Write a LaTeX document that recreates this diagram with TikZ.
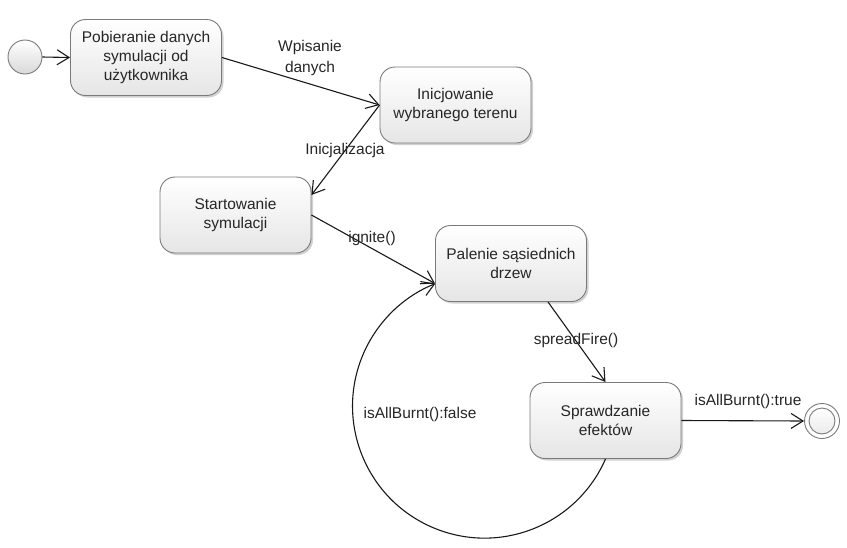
\documentclass[tikz,border=0pt]{standalone}
\usepackage{fontspec}
\setmainfont{Liberation Sans}
\usetikzlibrary{arrows.meta,shadows}
\definecolor{txt}{HTML}{262626}
\definecolor{bord}{HTML}{7A7A7A}
\begin{document}
\begin{tikzpicture}[x=1pt,y=-1pt,
  state/.style={draw=bord, line width=0.9pt, rounded corners=15pt,
    minimum width=151pt, minimum height=76pt, align=center,
    top color=white, bottom color=black!10, text=txt, inner sep=2pt,
    font=\fontsize{15.5}{19}\selectfont,
    drop shadow={shadow xshift=2pt,shadow yshift=-2pt,opacity=0.18,fill=black}},
  lbl/.style={text=txt, font=\fontsize{15.5}{21}\selectfont, align=center, inner sep=0pt},
  conn/.style={draw=black!90, line width=1.1pt, -{Straight Barb[length=12pt,width=15pt,line width=1.1pt]}}
]
\useasboundingbox (0,0) rectangle (847,547);

% initial and final pseudo-states
\node[circle, draw=bord, line width=0.9pt, minimum size=34pt, inner sep=0pt,
      top color=white, bottom color=black!15] (start) at (25,57) {};
\node[circle, draw=bord, line width=0.9pt, minimum size=35pt, inner sep=0pt, fill=white] (end) at (822,421) {};
\node[circle, draw=bord, line width=0.9pt, minimum size=26pt, inner sep=0pt,
      top color=white, bottom color=black!8] (endin) at (822,421) {};

% states
\node[state] (s1) at (146,57.5) {Pobieranie danych\\symulacji od\\użytkownika};
\node[state] (s2) at (455.5,105) {Inicjowanie\\wybranego terenu};
\node[state] (s3) at (235.5,215) {Startowanie\\symulacji};
\node[state] (s4) at (511,263.5) {Palenie sąsiednich\\drzew};
\node[state] (s5) at (605.5,420.5) {Sprawdzanie\\efektów};

% transitions
\draw[conn] (start.east) -- (s1.west);
\draw[conn] (s1.east) -- (s2.west);
\draw[conn] (s2.west) -- ([yshift=20pt]s3.east);
\draw[conn] (s3.east) -- ([yshift=-20pt]s4.west);
\draw[conn] ([xshift=37pt]s4.south) -- (s5.north);
\draw[conn] (s5.east) -- (end.west);
\draw[conn] (s5.south) arc[start angle=-23.6, end angle=-248.1, radius=132pt];

% labels
\node[lbl] (l1) at (310,58) {Wpisanie\\danych};
\node[lbl] (l2) at (345,150) {Inicjalizacja};
\node[lbl] (l3) at (372,238) {ignite()};
\node[lbl] (l4) at (576,340) {spreadFire()};
\node[lbl] (l5) at (420,414) {isAllBurnt():false};
\node[lbl] (l6) at (748,401) {isAllBurnt():true};
\end{tikzpicture}
\end{document}
